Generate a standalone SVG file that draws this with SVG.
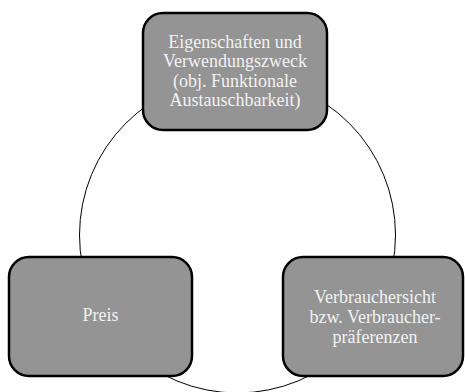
<svg xmlns="http://www.w3.org/2000/svg" width="465" height="392" viewBox="0 0 465 392">
<style>
.box{fill:#949494;stroke:#000;stroke-width:2.5}
.t{font-family:"Liberation Serif","Times New Roman",serif;font-size:18px;fill:#f2f2f2;text-anchor:middle}
</style>
<rect width="465" height="392" fill="#fff"/>
<g id="connectors">
<circle cx="237.5" cy="235" r="158" fill="none" stroke="#000" stroke-width="1"/>
</g>
<g id="node-top">
<rect class="box" x="143" y="13" width="184" height="117" rx="20"/>
<text class="t" x="235" y="48">Eigenschaften und</text>
<text class="t" x="235" y="67">Verwendungszweck</text>
<text class="t" x="235" y="86.5">(obj. Funktionale</text>
<text class="t" x="235" y="106">Austauschbarkeit)</text>
</g>
<g id="node-preis">
<rect class="box" x="9" y="257" width="183" height="119" rx="20"/>
<text class="t" x="100.5" y="321">Preis</text>
</g>
<g id="node-verbraucher">
<rect class="box" x="283" y="257" width="180" height="119" rx="20"/>
<text class="t" x="375" y="303">Verbrauchersicht</text>
<text class="t" x="375" y="323">bzw. Verbraucher-</text>
<text class="t" x="375" y="343">präferenzen</text>
</g>
</svg>
